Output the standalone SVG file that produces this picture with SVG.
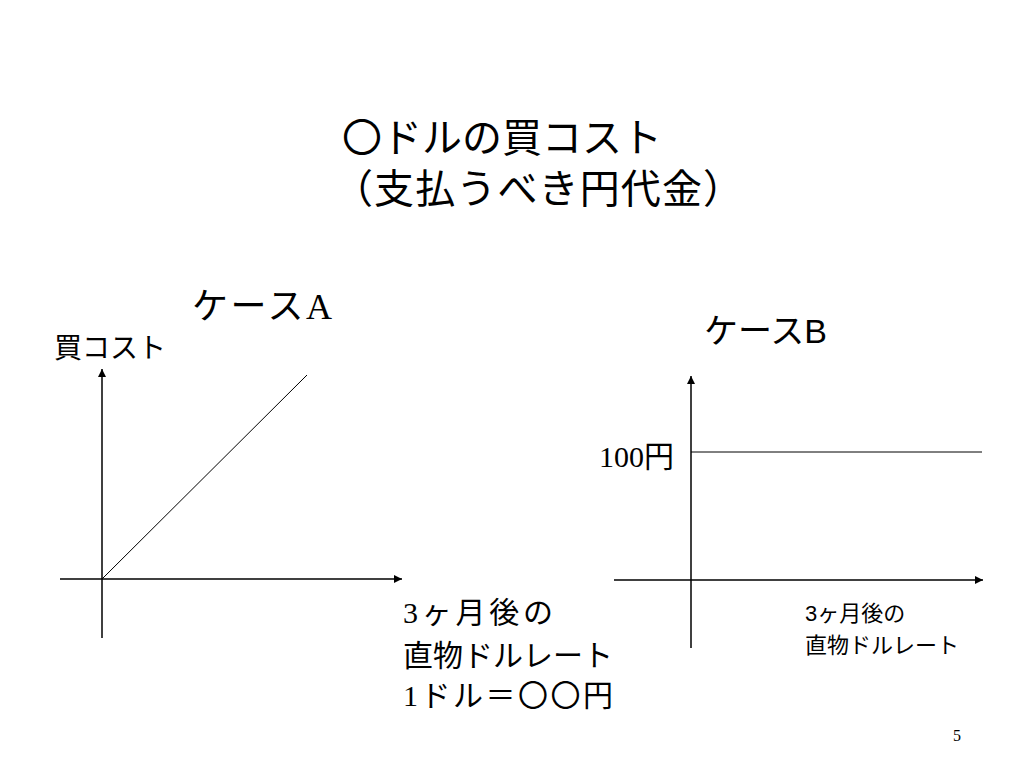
<svg xmlns="http://www.w3.org/2000/svg" width="1024" height="768" viewBox="0 0 1024 768">
<style>
.ser{font-family:"Liberation Serif","Noto Sans CJK JP",serif;fill:#000}
.san{font-family:"Liberation Sans","Noto Sans CJK JP",sans-serif;fill:#000}
.ax{stroke:#000;stroke-width:1.5;fill:none}
.ln{stroke:#000;stroke-width:1;fill:none}
</style>
<defs>
<marker id="arr" viewBox="0 0 10 10" refX="10" refY="5" markerWidth="8" markerHeight="8" markerUnits="userSpaceOnUse" orient="auto">
<path d="M0,0 L10,5 L0,10 Z" fill="#000"/>
</marker>
</defs>
<rect width="1024" height="768" fill="#fff"/>
<g id="title">
<text class="san" x="342" y="152" font-size="40">〇ドルの買コスト</text>
<text class="san" x="333" y="203" font-size="40" textLength="410" lengthAdjust="spacing">（支払うべき円代金）</text>
</g>
<g id="caseA">
<text class="ser" x="192" y="319" font-size="36" textLength="140" lengthAdjust="spacing">ケースA</text>
<text class="san" x="54" y="358" font-size="28">買コスト</text>
<text class="ser" font-size="30"><tspan x="403" y="623" textLength="150" lengthAdjust="spacing">3ヶ月後の</tspan><tspan x="403" y="666">直物ドルレート</tspan><tspan x="403" y="706" textLength="210" lengthAdjust="spacing">1ドル＝〇〇円</tspan></text>
</g>
<g id="caseB">
<text class="san" x="704" y="343" font-size="34">ケースB</text>
<text class="ser" x="599" y="467" font-size="30">100円</text>
<text class="san" font-size="22"><tspan x="805" y="621">3ヶ月後の</tspan><tspan x="805" y="653">直物ドルレート</tspan></text>
</g>
<g id="connectors">
<line class="ax" x1="102" y1="638" x2="102" y2="369" marker-end="url(#arr)"/>
<line class="ax" x1="60" y1="579" x2="402" y2="579" marker-end="url(#arr)"/>
<line class="ln" x1="102" y1="579" x2="307" y2="375"/>
<line class="ax" x1="691" y1="648" x2="691" y2="376" marker-end="url(#arr)"/>
<line class="ax" x1="614" y1="580" x2="983" y2="580" marker-end="url(#arr)"/>
<line class="ln" x1="691" y1="452" x2="982" y2="452"/>
</g>
<text class="ser" x="953" y="741" font-size="16">5</text>
</svg>
